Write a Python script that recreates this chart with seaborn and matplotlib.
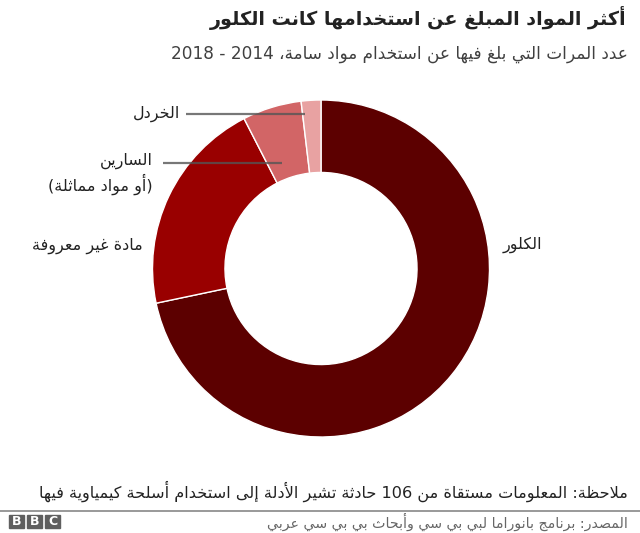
import re
import matplotlib
matplotlib.use("Agg")
import matplotlib.pyplot as plt
import matplotlib.patches as mpatches
import seaborn as sns

# data
substances = ["الكلور", "مادة غير معروفة", "السارين", "الخردل"]
incidents = [76, 22, 6, 2]
colors = ["#5c0000", "#990000", "#d26566", "#e8a2a2"]

title = "أكثر المواد المبلغ عن استخدامها كانت الكلور"
subtitle = "عدد المرات التي بلغ فيها عن استخدام مواد سامة، 2014 - 2018"
sarin_note = "(أو مواد مماثلة)"
note = "ملاحظة: المعلومات مستقاة من 106 حادثة تشير الأدلة إلى استخدام أسلحة كيمياوية فيها"
source = "المصدر: برنامج بانوراما لبي بي سي وأبحاث بي بي سي عربي"


# matplotlib has no arabic shaping / rtl, so do a small one here
# letters in unicode order with number of presentation forms (Forms-B start at U+FE80)
_letters = [("ء", 1), ("آ", 2), ("أ", 2), ("ؤ", 2), ("إ", 2), ("ئ", 4), ("ا", 2),
            ("ب", 4), ("ة", 2), ("ت", 4), ("ث", 4), ("ج", 4), ("ح", 4), ("خ", 4),
            ("د", 2), ("ذ", 2), ("ر", 2), ("ز", 2), ("س", 4), ("ش", 4), ("ص", 4),
            ("ض", 4), ("ط", 4), ("ظ", 4), ("ع", 4), ("غ", 4), ("ف", 4), ("ق", 4),
            ("ك", 4), ("ل", 4), ("م", 4), ("ن", 4), ("ه", 4), ("و", 2), ("ى", 2),
            ("ي", 4)]
FORMS = {}
code = 0xFE80
for ch, nf in _letters:
    FORMS[ch] = (code, nf)
    code += nf
LAM_ALEF = {"آ": 0xFEF5, "أ": 0xFEF7, "إ": 0xFEF9, "ا": 0xFEFB}


def dual(c):
    return c in FORMS and FORMS[c][1] == 4


def shape(s):
    out = []
    i = 0
    while i < len(s):
        c = s[i]
        if c not in FORMS:
            out.append(c)
            i += 1
            continue
        prev_joins = i > 0 and dual(s[i - 1])
        if c == "ل" and i + 1 < len(s) and s[i + 1] in LAM_ALEF:
            out.append(chr(LAM_ALEF[s[i + 1]] + (1 if prev_joins else 0)))
            i += 2
            continue
        base, nf = FORMS[c]
        next_joins = dual(c) and i + 1 < len(s) and s[i + 1] in FORMS
        if nf == 4:
            form = 3 if (prev_joins and next_joins) else 1 if prev_joins else 2 if next_joins else 0
        elif nf == 2:
            form = 1 if prev_joins else 0
        else:
            form = 0
        out.append(chr(base + form))
        i += 1
    return "".join(out)


def ar(s):
    vis = shape(s)[::-1]
    vis = re.sub(r"[0-9]+", lambda m: m.group()[::-1], vis)
    return vis.translate(str.maketrans("()", ")("))


sns.set_theme(style="white")
plt.rcParams["font.family"] = ["DejaVu Sans"]

W, H = 640, 533
fig = plt.figure(figsize=(6.4, 5.33), dpi=100)

# donut centre and radius in pixels
cx, cy, r = 321, 268.5, 168.5
ax = fig.add_axes([(cx - r) / W, 1 - (cy + r) / H, 2 * r / W, 2 * r / H])
ax.pie(incidents, colors=colors, startangle=90, counterclock=False, radius=1,
       wedgeprops=dict(width=0.43, edgecolor="white", linewidth=1))
ax.set_xlim(-1, 1)
ax.set_ylim(-1, 1)
ax.set_aspect("equal")
ax.axis("off")


def px(x, y):
    return x / W, 1 - y / H


def d(x, y):
    return (x - cx) / r, (cy - y) / r


txt = "#222222"
fig.text(*px(626, 18), ar(title), ha="right", va="center", fontsize=13.8,
         fontweight="bold", color=txt)
fig.text(*px(628, 54), ar(subtitle), ha="right", va="center", fontsize=12.2, color="#404040")

# slice labels
lab = 11.5
fig.text(*px(503, 245), ar(substances[0]), ha="left", va="center", fontsize=lab, color=txt)
fig.text(*px(143, 246), ar(substances[1]), ha="right", va="center", fontsize=lab, color=txt)
fig.text(*px(153, 161), ar(substances[2]), ha="right", va="center", fontsize=lab, color=txt)
fig.text(*px(153, 184), ar(sarin_note), ha="right", va="center", fontsize=lab, color=txt)
fig.text(*px(180, 114), ar(substances[3]), ha="right", va="center", fontsize=lab, color=txt)

# leader lines
for x0, x1, y in [(163, 282, 162.5), (186, 305, 114)]:
    (a0, b0), (a1, b1) = d(x0, y), d(x1, y)
    ax.plot([a0, a1], [b0, b1], color="#555555", lw=1.6, alpha=0.8, clip_on=False,
            solid_capstyle="butt")

fig.text(*px(628, 491), ar(note), ha="right", va="center", fontsize=11.6, color=txt)
fig.add_artist(plt.Line2D([0, 1], [1 - 510.5 / H] * 2, color="#888888", lw=1.2))
fig.text(*px(628, 522), ar(source), ha="right", va="center", fontsize=10.2, color="#666666")

# bbc blocks
for k, letter in enumerate("BBC"):
    x0 = 9 + k * 18
    fig.add_artist(mpatches.Rectangle(px(x0, 528), 15 / W, 13 / H, color="#5f5f5f",
                                      transform=fig.transFigure))
    fig.text(*px(x0 + 7.5, 521.5), letter, ha="center", va="center", fontsize=9,
             fontweight="bold", color="white")

fig.savefig("out.png", dpi=100)
